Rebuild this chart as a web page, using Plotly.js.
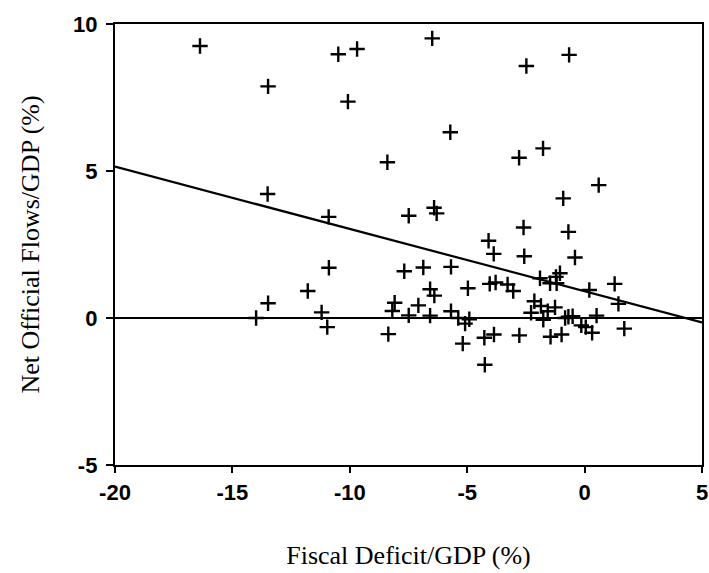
<!DOCTYPE html>
<html>
<head>
<meta charset="utf-8">
<script src="https://cdn.plot.ly/plotly-3.0.1.min.js"></script>
<style>html,body{margin:0;padding:0;background:#fff;}#chart{width:709px;height:573px;}</style>
</head>
<body>
<div id="chart"></div>
<script>
var fiscalDeficit = [-16.38,-10.49,-9.69,-13.48,-10.08,-8.40,-13.50,-10.90,-7.49,-6.49,
  -0.66,-2.48,-5.72,-1.77,-2.79,0.60,-0.91,-6.41,-6.30,-2.60,
  -0.69,-4.09,-3.87,-2.57,-0.41,-6.87,-5.69,-4.97,-6.58,-6.40,
  -4.04,-3.79,-3.28,-3.04,-1.90,-1.22,-1.05,-1.47,-1.19,0.20,
  1.28,1.44,-2.14,-1.86,-1.57,-1.26,-2.28,0.51,-6.58,-5.69,
  -5.38,-5.09,-4.91,-1.76,-0.83,-0.69,-0.51,-0.14,0.05,0.32,
  1.69,-5.19,-4.27,-3.86,-2.78,-1.45,-0.98,-4.25,-10.89,-11.79,
  -13.48,-11.20,-10.96,-13.99,-7.68,-8.09,-8.19,-7.08,-7.49,-8.36];
var netOfficialFlows = [9.25,8.97,9.15,7.88,7.36,5.30,4.22,3.44,3.48,9.51,
  8.95,8.57,6.32,5.77,5.45,4.52,4.07,3.75,3.56,3.08,
  2.93,2.63,2.18,2.10,2.06,1.72,1.74,1.01,0.98,0.76,
  1.16,1.21,1.14,0.92,1.35,1.40,1.52,1.18,1.18,0.95,
  1.16,0.48,0.57,0.41,0.23,0.36,0.18,0.08,0.08,0.23,
  0.00,-0.19,-0.04,-0.06,0.00,0.04,0.06,-0.25,-0.31,-0.50,
  -0.36,-0.87,-0.67,-0.56,-0.59,-0.64,-0.56,-1.59,1.71,0.92,
  0.50,0.19,-0.31,0.00,1.59,0.52,0.24,0.43,0.09,-0.55];
var fitX = [-20, 5];
var fitY = [5.15, -0.15];
var xTicks = [-20, -15, -10, -5, 0, 5];
var yTicks = [-5, 0, 5, 10];

var traces = [
  {x: fitX, y: fitY, type: 'scatter', mode: 'lines', line: {color: '#000', width: 2.2}, hoverinfo: 'skip', showlegend: false},
  {x: fiscalDeficit, y: netOfficialFlows, type: 'scatter', mode: 'markers',
   marker: {symbol: 'cross-thin-open', size: 11, color: '#000', line: {color: '#000', width: 2.4}}, showlegend: false}
];
var tickFont = {family: 'Liberation Sans, Arial, sans-serif', size: 22, color: '#000', weight: 'bold'};
var titleFont = {family: 'Liberation Serif, Times New Roman, serif', size: 26, color: '#000'};
var layout = {
  width: 709, height: 573,
  margin: {l: 115, r: 7, t: 24, b: 108},
  paper_bgcolor: '#fff', plot_bgcolor: '#fff',
  showlegend: false,
  xaxis: {range: [-20, 5], tickvals: xTicks, ticktext: xTicks.map(String), ticks: 'outside', ticklen: 6, tickwidth: 2, tickcolor: '#000',
    showline: true, linecolor: '#000', linewidth: 2.2, mirror: true, showgrid: false, zeroline: false,
    tickfont: tickFont, title: {text: 'Fiscal Deficit/GDP (%)', font: titleFont, standoff: 42}},
  yaxis: {range: [-5, 10], tickvals: yTicks, ticktext: yTicks.map(String), ticks: 'outside', ticklen: 7, tickwidth: 2, tickcolor: '#000',
    ticklabelstandoff: 4,
    showline: true, linecolor: '#000', linewidth: 2.2, mirror: true, showgrid: false,
    zeroline: true, zerolinecolor: '#000', zerolinewidth: 2.2,
    tickfont: tickFont, title: {text: 'Net Official Flows/GDP (%)', font: titleFont, standoff: 26}}
};
Plotly.newPlot('chart', traces, layout, {displayModeBar: false, staticPlot: true});
</script>
</body>
</html>
